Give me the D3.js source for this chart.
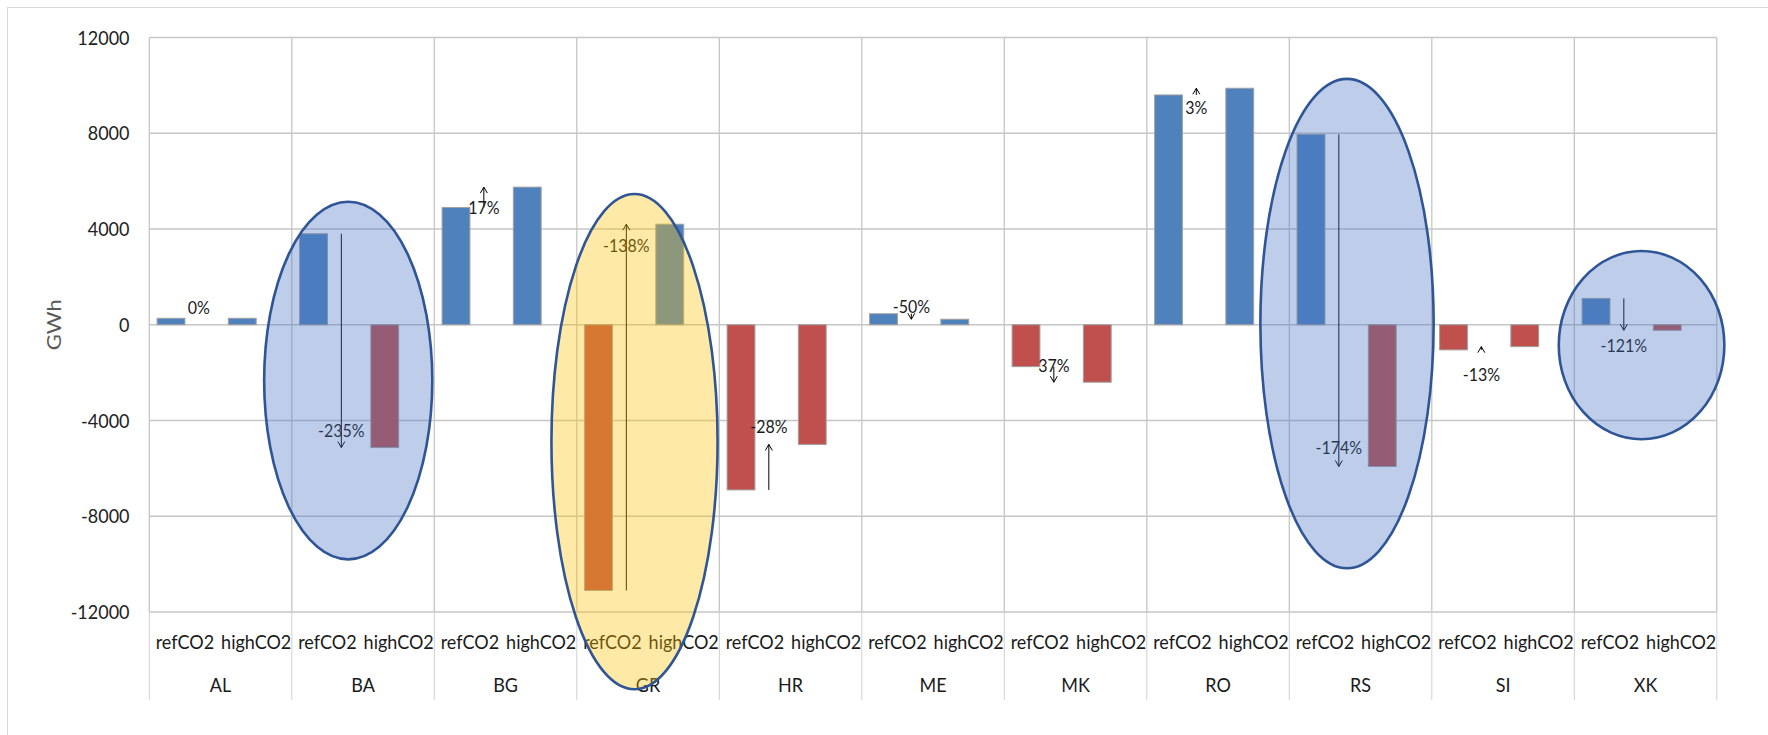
<!DOCTYPE html>
<html>
<head>
<meta charset="utf-8">
<script src="https://cdn.jsdelivr.net/npm/d3@7"></script>
<style>
  html, body { margin: 0; padding: 0; background: #fff; overflow: hidden; }
  text { font-family: Lato, "Noto Sans", sans-serif; }
</style>
</head>
<body>
<svg id="chart" width="1768" height="735"></svg>
<script>
// ---- data: net electricity balance per country (GWh) ----
const countries = ["AL", "BA", "BG", "GR", "HR", "ME", "MK", "RO", "RS", "SI", "XK"];
const scenarios = ["refCO2", "highCO2"];
const refCO2  = [270, 3800, 4900, -11100, -6900, 460, -1750, 9600, 7950, -1050, 1100];
const highCO2 = [270, -5130, 5750, 4200, -5000, 230, -2400, 9880, -5920, -915, -230];
const yTicks  = [-12000, -8000, -4000, 0, 4000, 8000, 12000];

// highlighted countries and the GWh span each oval covers
const highlightCountries = ["BA", "GR", "RS", "XK"];
const highlightTop    = [5140, 5460, 10270, 3080];
const highlightBottom = [-9800, -15230, -10170, -4785];
const highlightTone   = ["blue", "yellow", "blue", "blue"];

// ---- layout ----
const plot = { left: 149.3, right: 1716.8, top: 37.5, bottom: 612 };
// where each change label sits: which end of the arrow, and a pixel nudge
const labelAnchor = ["ref", "high", "ref", "high", "high", "ref", "ref", "ref", "high", "ref", "high"];
const labelShift  = [-11, -17, 0, 21, -18, -7, -1, 13, -19, 25, 15];
// oval centre / half-width as a share of the country band
const ovalCx = [0.396, 0.405, 0.405, 0.472];
const ovalRx = [0.59, 0.583, 0.608, 0.581];
const toneFill = { blue: "#4472c4", yellow: "#ffc000" };
const TEXT_STRETCH = 1.1;

const svg = d3.select("#chart");

// chart area frame
svg.append("rect")
  .attr("x", 7.5).attr("y", 7.5).attr("width", 1900).attr("height", 900)
  .attr("fill", "#fff").attr("stroke", "#d9d9d9").attr("stroke-width", 1);

const xCountry = d3.scaleBand().domain(countries).range([plot.left, plot.right]).padding(0);
const xScen = d3.scaleBand().domain(scenarios).range([0, xCountry.bandwidth()]).padding(0);
const xSer = d3.scaleBand().domain(["value", "change"]).range([0, xScen.bandwidth()])
  .paddingInner(0).paddingOuter(0.28);
const y = d3.scaleLinear().domain([-12000, 12000]).range([plot.bottom, plot.top]);

function label(g, x, yy, str, opts = {}) {
  const fs = opts.size || 18;
  return g.append("text")
    .attr("transform", `translate(${x},${yy}) scale(1,${TEXT_STRETCH})`)
    .attr("text-anchor", opts.anchor || "middle")
    .attr("dy", "0.36em")
    .attr("font-size", fs)
    .attr("fill", opts.fill || "#1a1a1a")
    .text(str);
}

// ---- gridlines ----
const grid = svg.append("g");
grid.selectAll("line.h").data(yTicks).join("line")
  .attr("x1", plot.left).attr("x2", plot.right)
  .attr("y1", d => y(d)).attr("y2", d => y(d))
  .attr("stroke", "#c6c6c6").attr("stroke-width", 1.3);
const bounds = countries.map(c => xCountry(c)).concat([plot.right]);
grid.selectAll("line.v").data(bounds).join("line")
  .attr("x1", d => d).attr("x2", d => d)
  .attr("y1", plot.top).attr("y2", plot.bottom)
  .attr("stroke", "#c6c6c6").attr("stroke-width", 1.3);
// separators through the two rows of category labels
grid.selectAll("line.sep").data(bounds).join("line")
  .attr("x1", d => d).attr("x2", d => d)
  .attr("y1", plot.bottom).attr("y2", 700)
  .attr("stroke", "#d0d0d0").attr("stroke-width", 1);

// ---- y axis ----
const yAxis = svg.append("g");
yTicks.forEach(t => label(yAxis, 129.5, y(t), String(t), { anchor: "end", size: 18, fill: "#222" }));
yAxis.append("text")
  .attr("transform", `translate(54,${(plot.top + plot.bottom) / 2}) rotate(-90) scale(${TEXT_STRETCH},1)`)
  .attr("text-anchor", "middle").attr("dy", "0.36em")
  .attr("font-size", 20).attr("fill", "#595959")
  .text("GWh");

// ---- bars ----
const rows = [];
countries.forEach((c, i) => {
  rows.push({ c, s: "refCO2", v: refCO2[i] });
  rows.push({ c, s: "highCO2", v: highCO2[i] });
});
svg.append("g").selectAll("rect").data(rows).join("rect")
  .attr("x", d => xCountry(d.c) + xScen(d.s) + xSer("value"))
  .attr("width", xSer.bandwidth())
  .attr("y", d => y(Math.max(0, d.v)))
  .attr("height", d => Math.abs(y(d.v) - y(0)))
  .attr("fill", d => d.v >= 0 ? "#4f81bd" : "#c0504d")
  .attr("stroke", "#a0a0a0").attr("stroke-width", 1);

// ---- change arrows and labels ----
const ann = svg.append("g");
countries.forEach((c, i) => {
  const r = refCO2[i], h = highCO2[i];
  const cx = xCountry(c) + xScen("refCO2") + xSer("change") + xSer.bandwidth() / 2;
  const y0 = y(r), y1 = y(h);
  if (Math.abs(y1 - y0) > 0.5) {
    const dir = y1 > y0 ? 1 : -1;
    ann.append("line")
      .attr("x1", cx).attr("x2", cx).attr("y1", y0).attr("y2", y1)
      .attr("stroke", "#000").attr("stroke-width", 1);
    ann.append("path")
      .attr("d", `M${cx - 3.5},${y1 - dir * 6}L${cx},${y1}L${cx + 3.5},${y1 - dir * 6}`)
      .attr("fill", "none").attr("stroke", "#000").attr("stroke-width", 1);
  }
  const pct = Math.round((h - r) / r * 100);
  const ly = (labelAnchor[i] === "ref" ? y0 : y1) + labelShift[i];
  label(ann, cx, ly, `${pct === 0 ? 0 : pct}%`, { size: 16, fill: "#1a1a1a" });
});

// ---- category axis labels ----
const xAxis = svg.append("g");
countries.forEach(c => {
  scenarios.forEach(s => {
    label(xAxis, xCountry(c) + xScen(s) + xScen.bandwidth() / 2, 641.5, s, { size: 18, fill: "#1a1a1a" });
  });
  label(xAxis, xCountry(c) + xCountry.bandwidth() / 2, 685, c, { size: 18, fill: "#1a1a1a" });
});

// ---- highlight ovals ----
svg.append("g").selectAll("ellipse").data(highlightCountries).join("ellipse")
  .attr("cx", (c, i) => xCountry(c) + ovalCx[i] * xCountry.bandwidth())
  .attr("rx", (c, i) => ovalRx[i] * xCountry.bandwidth())
  .attr("cy", (c, i) => (y(highlightTop[i]) + y(highlightBottom[i])) / 2)
  .attr("ry", (c, i) => (y(highlightBottom[i]) - y(highlightTop[i])) / 2)
  .attr("fill", (c, i) => toneFill[highlightTone[i]])
  .attr("fill-opacity", 0.35)
  .attr("stroke", "#2f5597").attr("stroke-width", 2.6);
</script>
</body>
</html>
